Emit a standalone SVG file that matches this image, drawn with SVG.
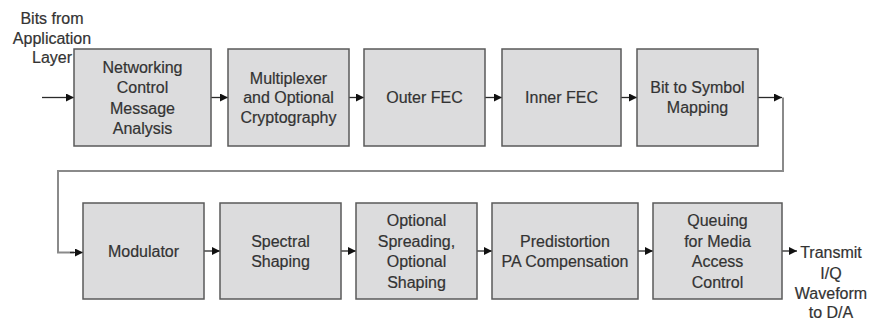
<svg xmlns="http://www.w3.org/2000/svg" width="869" height="321" viewBox="0 0 869 321">
  <style>
    .box { fill: #dcdcdd; stroke: #5a5a5a; stroke-width: 1.5; }
    .lbl { font-family: "Liberation Sans", Arial, sans-serif; font-size: 16px; fill: #333; stroke: #333; stroke-width: 0.2; text-anchor: middle; }
    .wire { fill: none; stroke: #2a2a2a; stroke-width: 1.3; }
    .loop { fill: none; stroke: #8a8a8a; stroke-width: 2; }
  </style>
  <defs>
    <marker id="arrow" viewBox="0 0 10 10" refX="10" refY="5" markerWidth="9" markerHeight="8" markerUnits="userSpaceOnUse" orient="auto">
      <path d="M0,0 L10,5 L0,10 z" fill="#111"/>
    </marker>
  </defs>
  <rect width="869" height="321" fill="#fff"/>

  <!-- input / output labels -->
  <text class="lbl" x="52" y="24">Bits from</text>
  <text class="lbl" x="52" y="43.5">Application</text>
  <text class="lbl" x="52" y="63">Layer</text>

  <text class="lbl" x="831" y="257.5">Transmit</text>
  <text class="lbl" x="831" y="278.5">I/Q</text>
  <text class="lbl" x="831" y="299">Waveform</text>
  <text class="lbl" x="831" y="318">to D/A</text>

  <!-- connectors -->
  <g id="connectors">
    <line class="wire" x1="42" y1="97.5" x2="74" y2="97.5" marker-end="url(#arrow)"/>
    <line class="wire" x1="211" y1="97.5" x2="228" y2="97.5" marker-end="url(#arrow)"/>
    <line class="wire" x1="349" y1="97.5" x2="364" y2="97.5" marker-end="url(#arrow)"/>
    <line class="wire" x1="485" y1="97.5" x2="502" y2="97.5" marker-end="url(#arrow)"/>
    <line class="wire" x1="621" y1="97.5" x2="637" y2="97.5" marker-end="url(#arrow)"/>
    <line class="wire" x1="758" y1="97.5" x2="782" y2="97.5" marker-end="url(#arrow)"/>
    <polyline class="loop" points="783,97.5 783,171 58,171 58,252.5 74,252.5"/>
    <line class="wire" x1="70" y1="252.5" x2="83" y2="252.5" marker-end="url(#arrow)"/>
    <line class="wire" x1="204" y1="251" x2="220" y2="251" marker-end="url(#arrow)"/>
    <line class="wire" x1="341" y1="251" x2="356" y2="251" marker-end="url(#arrow)"/>
    <line class="wire" x1="477" y1="251" x2="492" y2="251" marker-end="url(#arrow)"/>
    <line class="wire" x1="638" y1="251" x2="653" y2="251" marker-end="url(#arrow)"/>
    <line class="wire" x1="782" y1="251" x2="797" y2="251" marker-end="url(#arrow)"/>
  </g>

  <!-- top row -->
  <g id="net-control">
    <rect class="box" x="74" y="49" width="137" height="97"/>
    <text class="lbl" x="142.5" y="72.5">Networking</text>
    <text class="lbl" x="142.5" y="93">Control</text>
    <text class="lbl" x="142.5" y="113.5">Message</text>
    <text class="lbl" x="142.5" y="134">Analysis</text>
  </g>
  <g id="multiplexer">
    <rect class="box" x="228" y="49" width="121" height="97"/>
    <text class="lbl" x="288.5" y="83.5">Multiplexer</text>
    <text class="lbl" x="288.5" y="103">and Optional</text>
    <text class="lbl" x="288.5" y="122.5">Cryptography</text>
  </g>
  <g id="outer-fec">
    <rect class="box" x="364" y="49" width="121" height="97"/>
    <text class="lbl" x="424.5" y="103">Outer FEC</text>
  </g>
  <g id="inner-fec">
    <rect class="box" x="502" y="49" width="119" height="97"/>
    <text class="lbl" x="561.5" y="103">Inner FEC</text>
  </g>
  <g id="bit-to-symbol">
    <rect class="box" x="637" y="49" width="121" height="97"/>
    <text class="lbl" x="697.5" y="92.5">Bit to Symbol</text>
    <text class="lbl" x="697.5" y="112.5">Mapping</text>
  </g>

  <!-- bottom row -->
  <g id="modulator">
    <rect class="box" x="83" y="203" width="121" height="96"/>
    <text class="lbl" x="143.5" y="257">Modulator</text>
  </g>
  <g id="spectral-shaping">
    <rect class="box" x="220" y="203" width="121" height="96"/>
    <text class="lbl" x="280.5" y="246.5">Spectral</text>
    <text class="lbl" x="280.5" y="266.5">Shaping</text>
  </g>
  <g id="spreading">
    <rect class="box" x="356" y="203" width="121" height="96"/>
    <text class="lbl" x="416.5" y="226">Optional</text>
    <text class="lbl" x="416.5" y="246.5">Spreading,</text>
    <text class="lbl" x="416.5" y="267">Optional</text>
    <text class="lbl" x="416.5" y="287.5">Shaping</text>
  </g>
  <g id="predistortion">
    <rect class="box" x="492" y="203" width="146" height="96"/>
    <text class="lbl" x="565" y="246.5">Predistortion</text>
    <text class="lbl" x="565" y="266.5">PA Compensation</text>
  </g>
  <g id="queuing">
    <rect class="box" x="653" y="203" width="129" height="96"/>
    <text class="lbl" x="717.5" y="226">Queuing</text>
    <text class="lbl" x="717.5" y="246.5">for Media</text>
    <text class="lbl" x="717.5" y="267">Access</text>
    <text class="lbl" x="717.5" y="287.5">Control</text>
  </g>
</svg>
